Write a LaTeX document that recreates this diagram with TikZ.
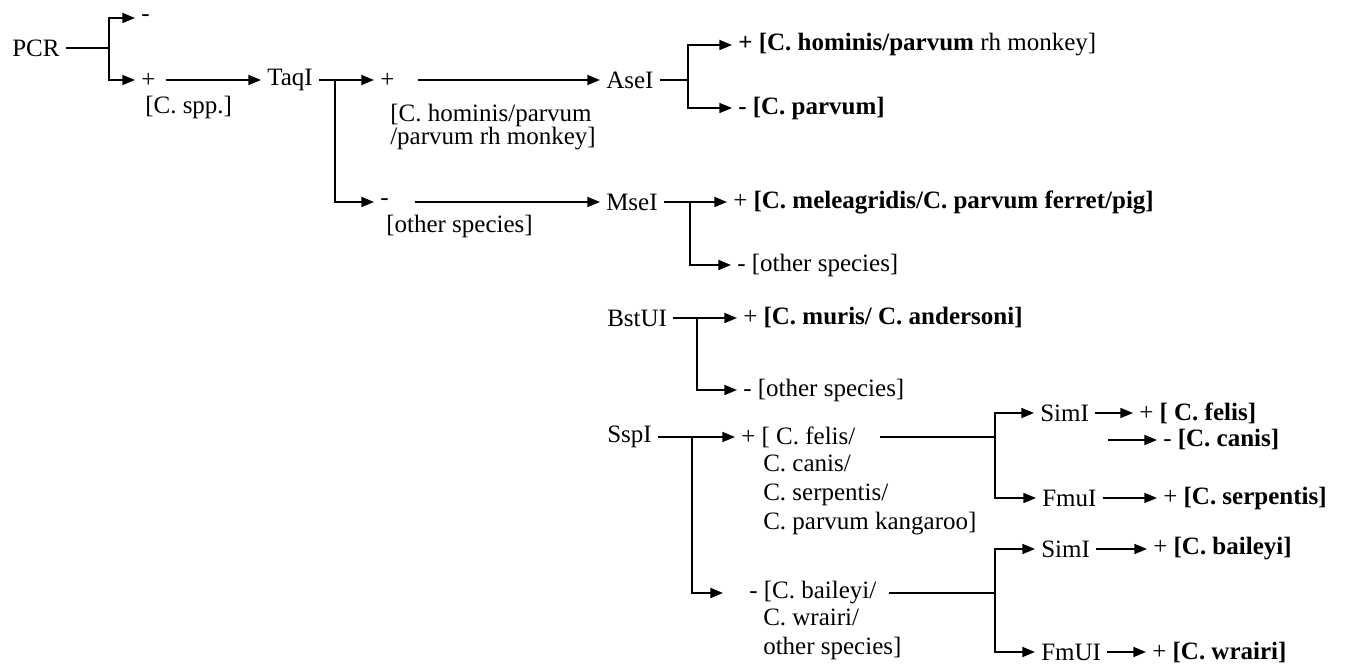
\documentclass[tikz,border=0pt]{standalone}
\usepackage{fontspec}
\setmainfont{Liberation Serif}
\usepackage{tikz}
\usetikzlibrary{arrows.meta}

\begin{document}
\begin{tikzpicture}[x=0.75pt,y=-0.75pt,
  every node/.style={font=\fontsize{18.75}{21.75}\selectfont, inner ysep=0pt},
  enz/.style={anchor=west, inner xsep=4.5pt},
  lbl/.style={anchor=west, inner xsep=4.5pt, align=left},
  ln/.style={line width=1.3pt},
  arr/.style={ln, -{Triangle[length=9.5pt,width=7.5pt]}}]
\useasboundingbox (0,0) rectangle (1350,666);

% PCR
\node[enz] (pcr) at (6,48) {PCR};
\coordinate (j1) at (109,48);
\node[lbl] (pcrneg) at (135,18) {-};
\node[lbl] (pcrpos) at (135,80) {+};
\node[lbl] (spp) at (139,107) {[C. spp.]};
\draw[ln] (pcr) -- (j1);
\draw[arr] (j1) |- (pcrneg);
\draw[arr] (j1) |- (pcrpos);

% TaqI
\node[enz] (taq) at (261,80) {TaqI};
\draw[arr, shorten <=3pt] (pcrpos) -- (taq);
\coordinate (j2) at (335,80);
\node[lbl] (taqpos) at (374,80) {+};
\node[lbl, font=\fontsize{18.75}{17.25}\selectfont] (hominis) at (384,127) {[C. hominis/parvum\\/parvum rh monkey]};
\node[lbl] (taqneg) at (374,202) {-};
\node[lbl] (other1) at (380,226) {[other species]};
\draw[arr] (taq) -- (taqpos);
\draw[arr] (j2) |- (taqneg);

% AseI
\node[enz] (ase) at (600,80) {AseI};
\draw[arr, shorten <=13pt] (taqpos) -- (ase);
\coordinate (j3) at (688,80);
\node[lbl] (asepos) at (732,45) {\textbf{+ [C. hominis/parvum} rh monkey]};
\node[lbl] (aseneg) at (732,108) {\textbf{- [C. parvum]}};
\draw[ln] (ase) -- (j3);
\draw[arr] (j3) |- (asepos);
\draw[arr] (j3) |- (aseneg);

% MseI
\node[enz] (mse) at (600,202) {MseI};
\draw[arr, shorten <=15pt] (taqneg) -- (mse);
\coordinate (j4) at (690,202);
\node[lbl] (msepos) at (727,202) {+ \textbf{[C. meleagridis/C. parvum ferret/pig]}};
\node[lbl] (mseneg) at (731,265) {- [other species]};
\draw[arr] (mse) -- (msepos);
\draw[arr] (j4) |- (mseneg);

% BstUI
\node[enz] (bst) at (601,318) {BstUI};
\coordinate (j5) at (697,318);
\node[lbl] (bstpos) at (737,318) {+ \textbf{[C. muris/ C. andersoni]}};
\node[lbl] (bstneg) at (737,390) {- [other species]};
\draw[arr] (bst) -- (bstpos);
\draw[arr] (j5) |- (bstneg);

% SspI
\node[enz] (ssp) at (601,437) {SspI};
\coordinate (j6) at (692,437);
\node[lbl] (ssppos) at (735,437) {+ [ C. felis/};
\node[lbl] (ssprest) at (757,495) {C. canis/\\C. serpentis/\\C. parvum kangaroo]};
\node[lbl] (sspneg) at (723,593) {\hspace*{0.8em}- [C. baileyi/};
\node[lbl] (sspnegrest) at (757,634) {C. wrairi/\\other species]};
\draw[arr] (ssp) -- (ssppos);
\draw[arr] (j6) |- (sspneg);

% SimI / FmuI after SspI +
\coordinate (j7) at (995,437);
\node[enz] (sim1) at (1034,413) {SimI};
\node[enz] (fmu1) at (1036,498) {FmuI};
\node[lbl] (felis) at (1133,413) {+ \textbf{[ C. felis]}};
\coordinate (c1) at (1108,440);
\node[lbl] (canis) at (1157,440) {- \textbf{[C. canis]}};
\node[lbl] (serp) at (1157,498) {+ \textbf{[C. serpentis]}};
\draw[ln, shorten <=14pt] (ssppos) -- (j7);
\draw[arr] (j7) |- (sim1);
\draw[arr] (j7) |- (fmu1);
\draw[arr] (sim1) -- (felis);
\draw[arr] (c1) -- (canis);
\draw[arr] (fmu1) -- (serp);

% SimI / FmUI after SspI -
\coordinate (j8) at (995,593);
\node[enz] (sim2) at (1035,549) {SimI};
\node[enz] (fmu2) at (1035,652) {FmUI};
\node[lbl] (bail) at (1147,549) {+ \textbf{[C. baileyi]}};
\node[lbl] (wrai) at (1146,652) {+ \textbf{[C. wrairi]}};
\draw[ln, shorten <=5pt] (sspneg) -- (j8);
\draw[arr] (j8) |- (sim2);
\draw[arr] (j8) |- (fmu2);
\draw[arr] (sim2) -- (bail);
\draw[arr] (fmu2) -- (wrai);
\end{tikzpicture}
\end{document}
